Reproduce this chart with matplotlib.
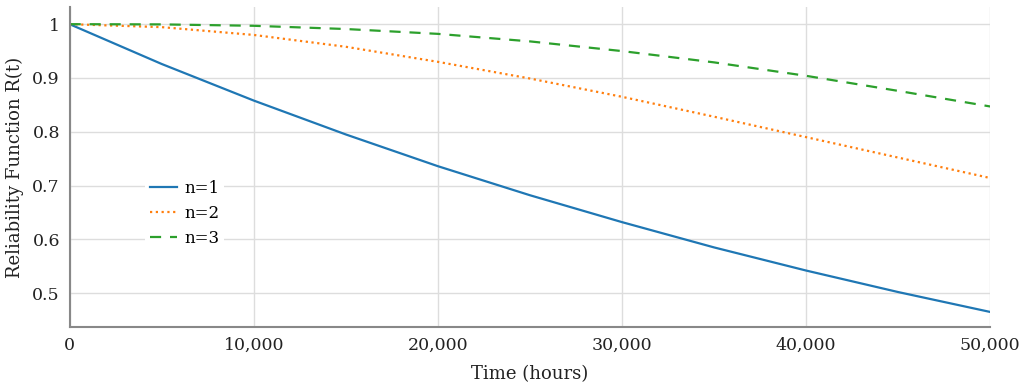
import matplotlib
matplotlib.use("Agg")
from matplotlib import pyplot as plt
from matplotlib.ticker import FuncFormatter

# =========================
# DANE
# =========================
time_h = [0, 5000, 10000, 15000, 20000, 25000, 30000, 35000, 40000, 45000, 50000]
r_n1 = [1.0, 0.926, 0.858, 0.795, 0.736, 0.682, 0.632, 0.585, 0.542, 0.502, 0.465]
r_n2 = [1.0, 0.9945, 0.980, 0.958, 0.930, 0.899, 0.865, 0.828, 0.790, 0.752, 0.714]
r_n3 = [1.0, 0.9996, 0.997, 0.991, 0.982, 0.968, 0.950, 0.929, 0.904, 0.876, 0.847]
labels = ["n=1", "n=2", "n=3"]

x_ticks = [0, 10000, 20000, 30000, 40000, 50000]
y_ticks = [0.5, 0.6, 0.7, 0.8, 0.9, 1.0]

plt.rcParams["font.family"] = ["DejaVu Serif"]

fig = plt.figure(figsize=(10.24, 3.87), dpi=100)
ax = fig.add_axes([0.068, 0.155, 0.899, 0.827])

ax.plot(time_h, r_n1, color="#1f77b4", lw=1.6, ls="-", label=labels[0])
ax.plot(time_h, r_n2, color="#ff7f0e", lw=1.6, ls=(0, (1, 1.6)), label=labels[1])
ax.plot(time_h, r_n3, color="#2ca02c", lw=1.6, ls=(0, (5, 4)), label=labels[2])

ax.set_xlim(0, 50000)
ax.set_ylim(0.437, 1.032)
ax.set_xticks(x_ticks)
ax.set_yticks(y_ticks)
ax.xaxis.set_major_formatter(FuncFormatter(lambda v, p: f"{int(v):,}"))
ax.yaxis.set_major_formatter(FuncFormatter(lambda v, p: "1" if v == 1 else f"{v:.1f}"))
ax.tick_params(length=0, labelsize=12.5, colors="#222222", pad=7)

ax.grid(True, color="#dddddd", lw=1)
ax.set_axisbelow(True)
for s in ["top", "right"]:
    ax.spines[s].set_visible(False)
for s in ["left", "bottom"]:
    ax.spines[s].set_color("#888888")
    ax.spines[s].set_linewidth(1.5)

ax.set_xlabel("Time (hours)", fontsize=13, color="#222222", labelpad=8)
ax.set_ylabel("Reliability Function R(t)", fontsize=13, color="#222222", labelpad=6)

leg = ax.legend(loc="center left", bbox_to_anchor=(0.073, 0.355), frameon=True,
                fontsize=12, handlelength=1.6, handletextpad=0.45,
                labelspacing=0.5, borderpad=0.3)
leg.get_frame().set_facecolor("white")
leg.get_frame().set_edgecolor("none")
leg.get_frame().set_alpha(1)

plt.savefig("out.png", dpi=100)
plt.close()
